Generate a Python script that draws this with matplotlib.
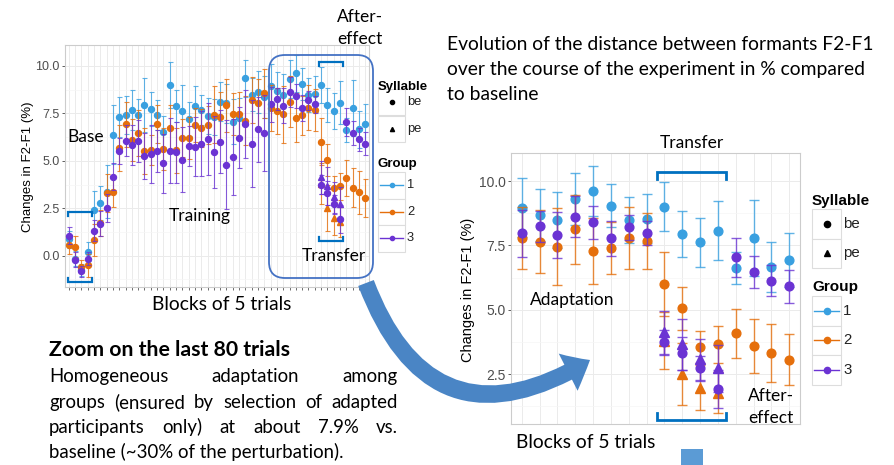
import numpy as np
import matplotlib.pyplot as plt
from matplotlib.patches import FancyBboxPatch, FancyArrowPatch, Rectangle
from matplotlib.lines import Line2D
from matplotlib.transforms import Affine2D
from matplotlib.colors import to_rgba

# Mean change in F2-F1 (%) per block of 5 trials (48 blocks), with error bar half-widths.
# Blocks 1-4 base, 5-32 training, 33-40 adaptation, 41-44 transfer, 45-48 after-effect.
blocks = np.arange(1, 49)

g1_be = [0.86, -0.15, -0.75, 0.2, 2.41, 2.79, 3.36, 6.38, 7.31, 7.4, 7.68, 7.4,
         7.94, 7.72, 7.4, 6.54, 9.0, 7.89, 7.62, 7.2, 7.9, 7.68, 7.35, 7.32,
         8.12, 8.02, 7.06, 7.24, 9.34, 8.48, 8.61, 8.38,
         8.96, 8.68, 8.48, 9.31, 9.61, 9.04, 8.48, 8.54,
         9.0, 7.93, 7.62, 8.07,
         6.63, 7.78, 6.65, 6.94]
g1_be_err = [0.45, 0.4, 0.3, 0.5, 1.0, 0.9, 1.4, 1.55, 1.07, 1.0, 1.05, 0.85,
             1.4, 0.9, 0.8, 0.8, 1.23, 0.85, 1.35, 0.9, 1.05, 0.8, 0.95, 0.95,
             1.05, 1.05, 1.2, 1.05, 0.96, 0.87, 1.1, 1.1,
             1.15, 1.0, 1.1, 1.0, 0.97, 0.83, 0.9, 0.95,
             0.95, 0.9, 0.96, 1.15,
             0.63, 1.48, 0.97, 1.05]

g2_be = [0.58, 0.47, -0.58, -0.5, 0.83, 1.72, 3.3, 3.36, 5.66, 6.92, 6.1, 6.45,
         5.52, 5.57, 6.94, 5.64, 6.75, 5.55, 6.2, 6.2, 6.89, 6.75, 6.9, 7.42,
         7.33, 7.92, 7.45, 7.45, 7.12, 8.19, 8.03, 8.55,
         7.78, 7.64, 7.45, 8.12, 7.27, 7.4, 7.8, 7.67,
         6.01, 5.05, 3.55, 3.65,
         4.08, 3.59, 3.33, 3.06]
g2_be_err = [0.5, 0.55, 0.35, 0.6, 0.85, 0.7, 1.0, 0.8, 1.2, 1.2, 1.1, 1.2,
             1.2, 0.8, 1.0, 1.1, 1.2, 1.2, 1.0, 1.1, 0.9, 1.0, 1.0, 1.5,
             1.3, 1.4, 1.1, 1.2, 1.3, 1.2, 1.3, 1.3,
             1.2, 1.22, 1.5, 1.33, 1.28, 1.02, 1.2, 1.1,
             1.24, 0.85, 0.63, 0.73,
             0.95, 1.04, 1.13, 1.0]

g3_be = [1.05, -0.22, -0.83, -0.15, 1.32, 1.68, 2.5, 4.17, 5.52, 6.06, 5.83, 6.05,
         5.25, 5.36, 5.5, 4.87, 5.54, 5.45, 5.06, 5.78, 5.75, 5.91, 6.13, 5.45,
         6.01, 4.79, 5.19, 6.21, 6.94, 5.9, 6.66, 6.44,
         7.97, 8.25, 7.91, 8.61, 8.39, 7.78, 8.2, 7.98,
         3.73, 3.3, 2.72, 1.92,
         7.03, 6.45, 6.13, 5.91]
g3_be_err = [0.45, 0.4, 0.3, 0.35, 0.55, 0.65, 0.75, 0.7, 0.7, 0.8, 1.05, 1.1,
             1.2, 1.55, 1.1, 1.55, 1.7, 1.6, 1.7, 1.05, 1.57, 1.7, 1.9, 1.9,
             1.67, 2.35, 2.0, 1.6, 1.8, 2.3, 1.7, 2.0,
             0.92, 0.6, 0.9, 0.8, 0.63, 0.68, 0.5, 0.45,
             0.5, 0.65, 0.5, 0.75,
             0.74, 0.62, 0.6, 0.63]

# syllable "pe" only appears in the transfer blocks (groups 2 and 3)
transfer_blocks = [41, 42, 43, 44]
g2_pe = [3.8, 2.5, 1.97, 1.77]
g2_pe_err = [1.1, 1.2, 0.87, 0.8]
g3_pe = [4.12, 3.65, 3.07, 2.72]
g3_pe_err = [0.85, 1.0, 0.8, 0.9]

group_labels = ['1', '2', '3']
group_colors = ['#39a0e0', '#e56f0c', '#6b33d3']
be_series = [(g1_be, g1_be_err), (g2_be, g2_be_err), (g3_be, g3_be_err)]
pe_series = [None, (g2_pe, g2_pe_err), (g3_pe, g3_pe_err)]

W, H = 894, 465
fig = plt.figure(figsize=(W / 100, H / 100), dpi=100)
# pixel coordinates measured from the top-left corner
P = Affine2D().scale(1 / W, -1 / H).translate(0, 1) + fig.transFigure

GG = 'Liberation Sans'
CAL = 'Lato'
BRACKET = '#0070c0'


def box(x0, y0, x1, y1):
    return [x0 / W, 1 - y1 / H, (x1 - x0) / W, (y1 - y0) / H]


def style_panel(ax, fs, xticks_on):
    ax.set_yticks([0, 2.5, 5, 7.5, 10])
    ax.set_yticks([-1.25, 1.25, 3.75, 6.25, 8.75], minor=True)
    ax.set_yticklabels(['0.0', '2.5', '5.0', '7.5', '10.0'])
    ax.set_xticks(blocks)
    ax.set_xticklabels([])
    ax.grid(which='major', color='#ebebeb', lw=0.7)
    ax.grid(which='minor', axis='y', color='#f6f6f6', lw=0.5)
    ax.set_axisbelow(True)
    for s in ax.spines.values():
        s.set_color('#cccccc')
        s.set_linewidth(0.8)
    ax.tick_params(axis='y', length=2.5, width=0.6, color='#444444',
                   labelsize=fs, labelcolor='#4d4d4d', pad=1.5)
    ax.tick_params(axis='y', which='minor', length=0)
    ax.tick_params(axis='x', length=2 if xticks_on else 0, width=0.6,
                   color='#555555')
    for lab in ax.get_yticklabels():
        lab.set_fontfamily(GG)


def draw_points(ax, ms, cap, lw):
    z = 3
    for (vals, errs), pe, c in zip(be_series, pe_series, group_colors):
        ax.errorbar(blocks, vals, yerr=errs, fmt='o', ms=ms, color=c,
                    ecolor=to_rgba(c, 0.8), elinewidth=lw, capsize=cap,
                    capthick=lw, zorder=z)
        if pe is not None:
            ax.errorbar(transfer_blocks, pe[0], yerr=pe[1], fmt='^', ms=ms + 0.6,
                        color=c, ecolor=to_rgba(c, 0.8), elinewidth=lw,
                        capsize=cap, capthick=lw, zorder=z + 0.5)
        z += 1


def bracket(ax, x0, x1, y, tick, lw=1.6):
    ax.plot([x0, x0, x1, x1], [y + tick, y, y, y + tick], color=BRACKET,
            lw=lw, clip_on=False, zorder=10, solid_joinstyle='miter')


def legend(x0, syl_y, syl_top, grp_y, grp_top, kw, kh, fs, ms):
    fig.text(x0, syl_y, 'Syllable', transform=P, fontsize=fs, fontweight='bold',
             family=GG, va='center', ha='left')
    fig.text(x0, grp_y, 'Group', transform=P, fontsize=fs, fontweight='bold',
             family=GG, va='center', ha='left')
    for i, (mk, lab) in enumerate([('o', 'be'), ('^', 'pe')]):
        top = syl_top + i * kh
        fig.add_artist(Rectangle((x0, top), kw, kh, transform=P, fc='white',
                                 ec='#dddddd', lw=0.8))
        fig.add_artist(Line2D([x0 + kw / 2], [top + kh / 2], transform=P,
                              marker=mk, ms=ms, color='black', ls='none'))
        fig.text(x0 + kw + 2, top + kh / 2, lab, transform=P, fontsize=fs * 0.98,
                 family=GG, va='center', ha='left', color='#222222')
    for i, (lab, c) in enumerate(zip(group_labels, group_colors)):
        top = grp_top + i * kh
        fig.add_artist(Rectangle((x0, top), kw, kh, transform=P, fc='white',
                                 ec='#dddddd', lw=0.8))
        fig.add_artist(Line2D([x0 + 2, x0 + kw - 2], [top + kh / 2] * 2,
                              transform=P, color=c, lw=1.0))
        fig.add_artist(Line2D([x0 + kw / 2], [top + kh / 2], transform=P,
                              marker='o', ms=ms, color=c, ls='none'))
        fig.text(x0 + kw + 2, top + kh / 2, lab, transform=P, fontsize=fs * 0.98,
                 family=GG, va='center', ha='left', color='#222222')


def txt(x, y, s, fs, **kw):
    kw.setdefault('family', CAL)
    kw.setdefault('va', 'center')
    kw.setdefault('ha', 'left')
    return fig.text(x, y, s, transform=P, fontsize=fs, color='black', **kw)


# ---- left panel: whole experiment ----
ax1 = fig.add_axes(box(65, 45, 369, 287))
style_panel(ax1, 9, True)
draw_points(ax1, 4.3, 1.8, 0.8)
bracket(ax1, 0.9, 4.7, 2.28, -0.2)
bracket(ax1, 0.9, 4.7, -1.37, 0.2)
bracket(ax1, 40.6, 44.45, 10.2, -0.2)
bracket(ax1, 40.6, 44.45, 0.77, 0.2)
ax1.set_xlim(0.4, 48.6)
ax1.set_ylim(-1.65, 11.1)
txt(28, 167, 'Changes in F2-F1 (%)', 9.5, family=GG, rotation=90, ha='center')

# ---- right panel: last 80 trials ----
ax2 = fig.add_axes(box(511, 153, 800, 424))
style_panel(ax2, 10, False)
draw_points(ax2, 6.3, 3.6, 1.0)
bracket(ax2, 40.6, 44.45, 10.35, -0.27, lw=2)
bracket(ax2, 40.6, 44.45, 0.71, 0.27, lw=2)
ax2.set_xlim(32.4, 48.6)
ax2.set_ylim(0.56, 11.09)
txt(468, 290, 'Changes in F2-F1 (%)', 10.5, family=GG, rotation=90, ha='center')

# legends
legend(378, 87, 89, 164, 172, 27, 26.5, 9.5, 3)
legend(812, 201, 209, 287, 296, 29, 29.5, 11, 4.5)

# rounded box around the last part of the left panel
fig.add_artist(FancyBboxPatch((269, 55), 104, 223, transform=P,
                              boxstyle='round,pad=0,rounding_size=16',
                              fc='none', ec='#4472c4', lw=1.3, zorder=6))

# curved arrow from the left panel to the zoomed panel
arrow = FancyArrowPatch((366, 283), (590, 360), transform=P,
                        connectionstyle='arc3,rad=0.6',
                        arrowstyle='simple,head_length=18,head_width=30,tail_width=12',
                        fc='#4a85c5', ec='none', shrinkA=0, shrinkB=0, zorder=7)
fig.add_artist(arrow)
fig.add_artist(Rectangle((681, 449), 22, 16, transform=P, fc='#5b9bd5',
                         ec='none'))

# ---- annotations ----
txt(360, 17, 'After-', 12.5, ha='center')
txt(360, 39, 'effect', 12.5, ha='center')
txt(67, 137, 'Base', 12.5)
txt(169, 216, 'Training', 12.5)
txt(302, 256, 'Transfer', 12.5)
txt(222, 304, 'Blocks of 5 trials', 13.9, ha='center')

for i, line in enumerate(['Evolution of the distance between formants F2-F1',
                          'over the course of the experiment in % compared',
                          'to baseline']):
    txt(447, 44 + i * 25.5, line, 13.9)

txt(692, 143, 'Transfer', 12.5, ha='center')
txt(530, 300, 'Adaptation', 12.5)
txt(748, 396, 'After-', 12.5)
txt(748, 418, 'effect', 12.5)
txt(586, 442, 'Blocks of 5 trials', 13.9, ha='center')

txt(49, 350, 'Zoom on the last 80 trials', 15.3, fontweight='bold')

renderer = fig.canvas.get_renderer()


def justified(words, y, x0=49, x1=398, fs=13.4):
    items = [txt(0, y, w, fs) for w in words]
    widths = [t.get_window_extent(renderer).width for t in items]
    gap = (x1 - x0 - sum(widths)) / (len(words) - 1)
    x = x0
    for t, wd in zip(items, widths):
        t.set_position((x, y))
        x += wd + gap


justified('Homogeneous adaptation among'.split(), 376)
justified('groups (ensured by selection of adapted'.split(), 402)
justified('participants only) at about 7.9% vs.'.split(), 427)
txt(49, 452, 'baseline (~30% of the perturbation).', 13.4)

fig.savefig('out.png', dpi=100)
